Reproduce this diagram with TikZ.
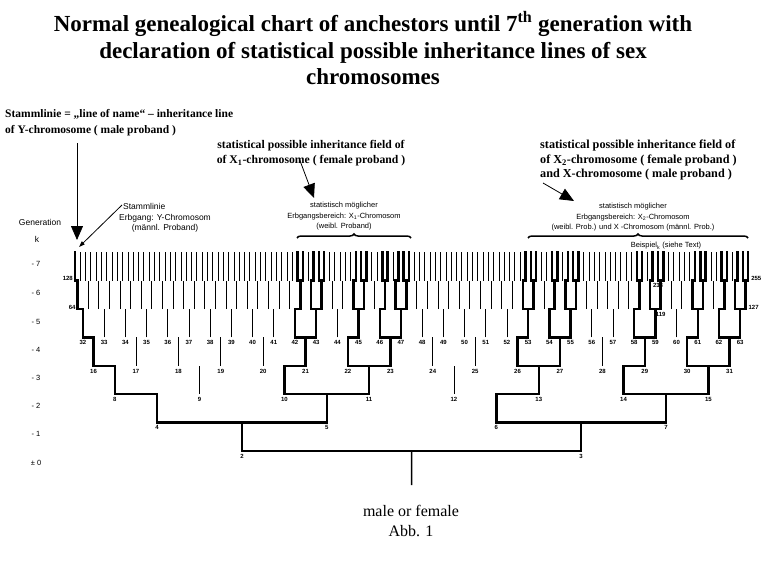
\documentclass[tikz,border=0pt]{standalone}
\usepackage{fontspec}
\setmainfont{Liberation Serif}
\setsansfont{Liberation Sans}
\usetikzlibrary{arrows.meta,decorations.pathreplacing}
\begin{document}
\begin{tikzpicture}[x=1pt,y=1pt,
  thinline/.style={line width=0.9pt},
  boldline/.style={line width=2.5pt,line cap=rect},
  probandline/.style={line width=1.6pt},
  numlbl/.style={font=\sffamily\bfseries\fontsize{6}{7}\selectfont,inner sep=0pt},
  genlbl/.style={font=\sffamily\fontsize{7.5}{8}\selectfont,inner sep=0pt},
  titletext/.style={font=\bfseries\fontsize{23}{26.5}\selectfont,align=center,inner sep=0pt},
  ann/.style={font=\bfseries\fontsize{11.5}{15}\selectfont,inner sep=0pt},
  ger/.style={font=\sffamily\fontsize{7.5}{10.5}\selectfont,align=center,inner sep=0pt},
  gerl/.style={font=\sffamily\fontsize{8.5}{10}\selectfont,align=center,inner sep=0pt},
  bigarrow/.style={line width=0.8pt,-{Triangle[length=14pt,width=12pt]}},
  smallarrow/.style={line width=0.8pt,-{Triangle[length=6pt,width=4pt]}},
  bracestyle/.style={decorate,decoration={brace,amplitude=4pt},line width=1.5pt},
  bottomtext/.style={font=\fontsize{16}{20}\selectfont,align=center,inner sep=0pt}]
\useasboundingbox (0,0) rectangle (774,-573);

% ---------- coordinates of the tree ----------
\foreach \g in {0,...,7}{
  \pgfmathtruncatemacro\N{2^\g}
  \pgfmathtruncatemacro\Nm{\N-1}
  \pgfmathsetmacro\w{2^(7-\g)}
  \pgfmathsetmacro\yb{-451+28.4*(\g-1)}
  \pgfmathsetmacro\yt{-451+28.4*\g}
  \foreach \i in {0,...,\Nm}{
    \pgfmathtruncatemacro\n{\N+\i}
    \pgfmathsetmacro\x{75+(\i*\w+(\w-1)/2)*5.3}
    \coordinate (b\n) at (\x,\yb);
    \coordinate (t\n) at (\x,\yt);
  }
}
\coordinate (b1) at (411.55,-485);

% ---------- thin verticals ----------
\foreach \n in {2,...,255}{\draw[thinline] (b\n) -- (t\n);}

% ---------- proband line ----------
\draw[probandline] (b1) -- (t1);

% ---------- bold verticals ----------
\foreach \n in {2,3,4,5,6,7,8,10,11,13,14,15,16,21,22,23,26,27,29,30,31,32,
  42,43,45,46,47,53,54,55,58,59,61,62,63,64,85,86,87,90,91,93,94,95,
  106,107,109,110,111,117,118,119,122,123,125,126,127,128,
  170,171,173,174,175,181,182,183,186,187,189,190,191,
  213,214,215,218,219,221,222,223,234,235,237,238,239,245,246,247,250,251,253,254,255}
  {\draw[boldline] (b\n) -- (t\n);}

% ---------- brackets ----------
\foreach \n in {1,2,3,5,7,11,13,15,21,23,27,29,31,43,45,47,53,55,59,61,63,
  85,87,91,93,95,107,109,111,117,119,123,125,127}{
  \pgfmathtruncatemacro\a{2*\n}\pgfmathtruncatemacro\c{2*\n+1}
  \draw[boldline] (b\a) -- (b\c);}
\foreach \n in {4,8,16,32,64}{
  \pgfmathtruncatemacro\a{2*\n}
  \draw[boldline] (t\n) -- (b\a);}
\foreach \n in {6,10,14,22,26,30,42,46,54,58,62,86,90,94,106,110,118,122,126}{
  \pgfmathtruncatemacro\c{2*\n+1}
  \draw[boldline] (t\n) -- (b\c);}

% ---------- node numbers ----------
\foreach \n in {2,...,63,119,238}{
  \node[numlbl,anchor=north,yshift=-3pt] (l\n) at (b\n) {\n};}
\node[numlbl,anchor=east,xshift=-2pt,yshift=2.5pt] (l128) at (b128) {128};
\node[numlbl,anchor=east,xshift=-2pt,yshift=2pt] (l64) at (b64) {64};
\node[numlbl,anchor=west,xshift=3pt,yshift=2.5pt] (l255) at (b255) {255};
\node[numlbl,anchor=west,xshift=3pt,yshift=2pt] (l127) at (b127) {127};

% ---------- generation column ----------
\node[genlbl,font=\sffamily\fontsize{8.5}{10}\selectfont] (gen) at (40,-222) {Generation};
\node[genlbl,font=\sffamily\fontsize{8.5}{10}\selectfont] (genk) at (37,-239) {k};
\node[genlbl] (g7) at (36,-264) {- 7};
\node[genlbl] (g6) at (36,-293) {- 6};
\node[genlbl] (g5) at (36,-322) {- 5};
\node[genlbl] (g4) at (36,-350) {- 4};
\node[genlbl] (g3) at (36,-378) {- 3};
\node[genlbl] (g2) at (36,-406) {- 2};
\node[genlbl] (g1) at (36,-434) {- 1};
\node[genlbl] (g0) at (36,-463) {± 0};

% ---------- title ----------
\node[titletext] (title) at (373,-48.5) {Normal genealogical chart of anchestors until 7\textsuperscript{th} generation with\\declaration of statistical possible inheritance lines of sex\\chromosomes};

% ---------- left annotation ----------
\node[ann,anchor=west,align=left,font=\bfseries\fontsize{11.5}{16}\selectfont] (stl) at (5,-123) {Stammlinie = „line of name“ – inheritance line\\of Y-chromosome ( male proband )};
\coordinate (a1s) at (77,-143);
\coordinate (a1e) at (77,-240);
\draw[bigarrow] (a1s) -- (a1e);
\node[gerl,anchor=west] (stg) at (123,-206) {Stammlinie};
\node[gerl] (stg2) at (165,-223) {Erbgang: Y-Chromosom\\(männl. Proband)};
\coordinate (a2s) at (122,-205);
\coordinate (a2e) at (79,-247);
\draw[smallarrow] (a2s) -- (a2e);

% ---------- middle annotation ----------
\node[ann,align=center,font=\bfseries\fontsize{11.7}{15}\selectfont] (x1t) at (311,-153.5) {statistical possible inheritance field of\\of X\textsubscript{1}-chromosome ( female proband )};
\coordinate (a3s) at (299,-158);
\coordinate (a3e) at (314,-198);
\draw[bigarrow] (a3s) -- (a3e);
\node[ger] (x1g) at (344,-216.5) {statistisch möglicher\\Erbgangsbereich: X\textsubscript{1}-Chromosom\\(weibl. Proband)};
\coordinate (br1s) at (297,-238);
\coordinate (br1e) at (411,-238);
\draw[bracestyle] (br1s) -- (br1e);

% ---------- right annotation ----------
\node[ann,anchor=west,align=left,font=\bfseries\fontsize{12.2}{14.5}\selectfont] (x2t) at (540,-160.5) {statistical possible inheritance field of\\of X\textsubscript{2}-chromosome ( female proband )\\and X-chromosome ( male proband )};
\coordinate (a4s) at (543,-183);
\coordinate (a4e) at (574,-201);
\draw[bigarrow] (a4s) -- (a4e);
\node[ger] (x2g) at (633,-217.5) {statistisch möglicher\\Erbgangsbereich: X\textsubscript{2}-Chromosom\\(weibl. Prob.) und X -Chromosom (männl. Prob.)};
\coordinate (br2s) at (528,-238);
\coordinate (br2e) at (748,-238);
\draw[bracestyle] (br2s) -- (br2e);
\node[ger] (bsp) at (666,-246) {Beispiel\textsubscript{k} (siehe Text)};

% ---------- bottom ----------
\node[bottomtext] (mf) at (411,-521) {male or female\\Abb. 1};
\end{tikzpicture}
\end{document}
